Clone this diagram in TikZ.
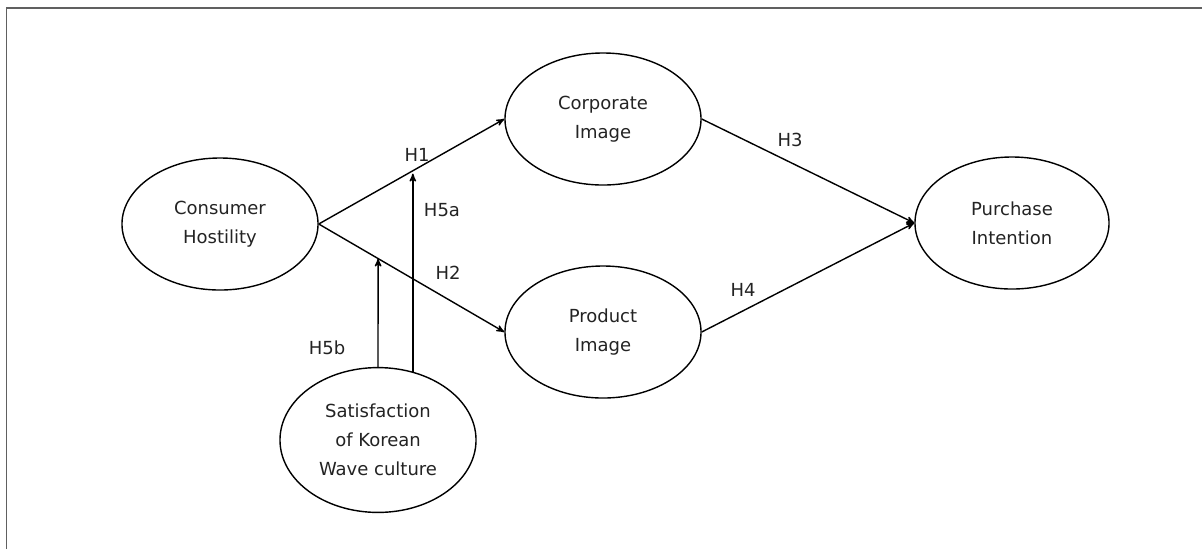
\documentclass[tikz,border=0pt]{standalone}
\usepackage{fontspec}
\setmainfont{DejaVu Sans}
\usetikzlibrary{positioning}
\usetikzlibrary{arrows}
\usetikzlibrary{calc}
\usetikzlibrary{shapes.geometric}
\definecolor{frame}{RGB}{96,96,96}
\definecolor{ink}{RGB}{35,35,35}
\tikzset{>=stealth'}
\tikzset{var/.style={draw, ellipse, line width=1pt, minimum width=4.9cm, minimum height=3.3cm, inner sep=0pt, align=center, text=ink, font=\fontsize{12.8}{20.5}\selectfont}}
\tikzset{hyp/.style={inner sep=0pt, text=ink, font=\fontsize{12.8}{15}\selectfont}}
\tikzset{link/.style={->, line width=1pt}}

\begin{document}
\begin{tikzpicture}[x=0.025cm, y=-0.025cm]
\useasboundingbox (0,0) rectangle (1202,549);
\draw[frame, line width=0.9pt] (6.5,549) |- (1202,8);

\node[var] (hos) at (220,224) {Consumer\\Hostility};
\node[var] (corp) at (603,119) {Corporate\\Image};
\node[var] (prod) at (603,332) {Product\\Image};
\node[var, minimum width=4.85cm] (buy) at (1012,223) {Purchase\\Intention};
\node[var, minimum height=3.62cm] (sat) at (378,440) {Satisfaction\\of Korean\\Wave culture};

\draw[link] (hos.east) -- coordinate[pos=0.5] (m1) (corp.west);
\draw[link] (hos.east) -- coordinate[pos=0.32] (m2) (prod.west);
\draw[link] (corp.east) -- (buy.west);
\draw[link] (prod.east) -- (buy.west);

\draw[link] (sat.north) -- (m2);
\draw[link, shorten >=1.5pt] (sat.63) -- (sat.63 |- m1);

\node[hyp] (h1) at (417,155) {H1};
\node[hyp] (h2) at (448,273) {H2};
\node[hyp] (h3) at (790,140) {H3};
\node[hyp] (h4) at (743,290) {H4};
\node[hyp] (h5a) at (442,210) {H5a};
\node[hyp] (h5b) at (327,348) {H5b};
\end{tikzpicture}
\end{document}
